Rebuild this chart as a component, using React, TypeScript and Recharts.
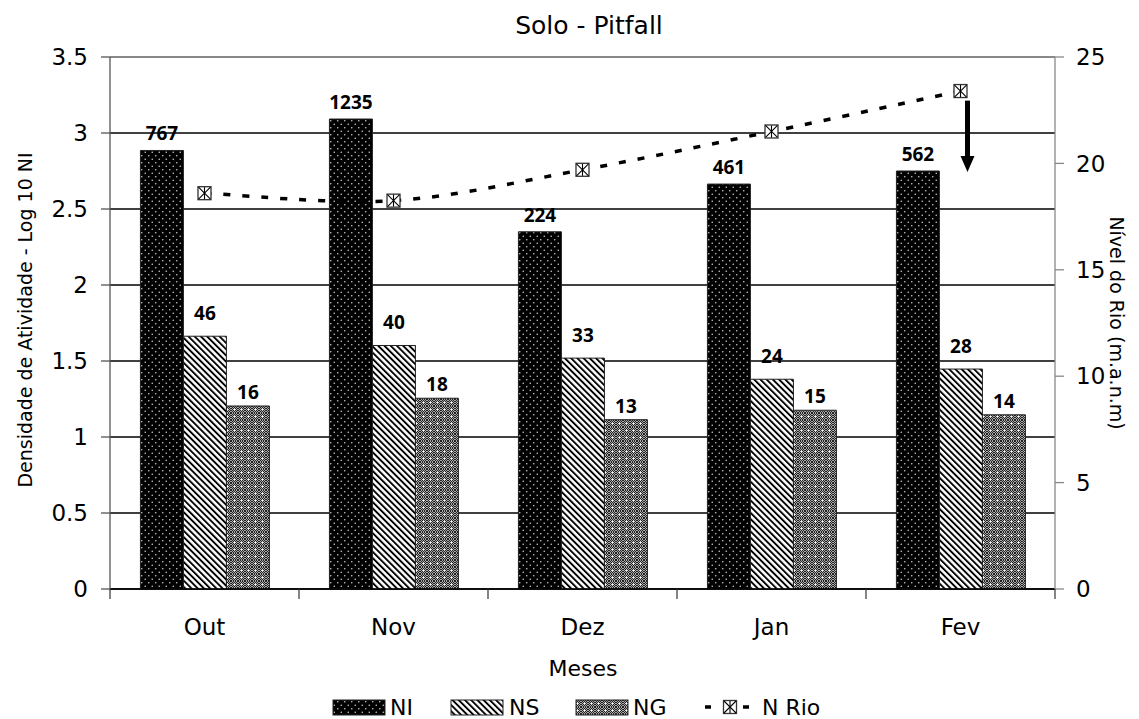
import React from 'react';
import { ComposedChart, Bar, Line, XAxis, YAxis, CartesianGrid, LabelList, ReferenceLine } from 'recharts';

const months = ['Out', 'Nov', 'Dez', 'Jan', 'Fev'];
const niCounts = [767, 1235, 224, 461, 562];
const nsCounts = [46, 40, 33, 24, 28];
const ngCounts = [16, 18, 13, 15, 14];
const niLog = [2.885, 3.092, 2.35, 2.664, 2.75];
const nsLog = [1.663, 1.602, 1.519, 1.38, 1.447];
const ngLog = [1.204, 1.255, 1.114, 1.176, 1.146];
const rioLevel = [18.6, 18.25, 19.7, 21.5, 23.4];
const leftTicks = [0, 0.5, 1, 1.5, 2, 2.5, 3, 3.5];
const rightTicks = [0, 5, 10, 15, 20, 25];
const arrowFrom = 22.95;
const arrowTo = 19.6;

const data = months.map((m, i) => ({
  month: m,
  ni: niLog[i],
  niN: niCounts[i],
  ns: nsLog[i],
  nsN: nsCounts[i],
  ng: ngLog[i],
  ngN: ngCounts[i],
  rio: rioLevel[i],
}));

const W = 1139;
const H = 719;
const BAND = 189;
const FONT = '"DejaVu Sans", sans-serif';

const excelSmooth = (context: any) => {
  let pts: number[][] = [];
  return {
    areaStart() {},
    areaEnd() {},
    lineStart() {
      pts = [];
    },
    lineEnd() {
      if (!pts.length) return;
      context.moveTo(pts[0][0], pts[0][1]);
      for (let i = 0; i < pts.length - 1; i++) {
        const p0 = pts[i - 1] || pts[i];
        const p1 = pts[i];
        const p2 = pts[i + 1];
        const p3 = pts[i + 2] || p2;
        context.bezierCurveTo(
          p1[0] + (p2[0] - p0[0]) / 6,
          p1[1] + (p2[1] - p0[1]) / 6,
          p2[0] - (p3[0] - p1[0]) / 6,
          p2[1] - (p3[1] - p1[1]) / 6,
          p2[0],
          p2[1]
        );
      }
    },
    point(x: number, y: number) {
      pts.push([+x, +y]);
    },
  };
};

const Patterns = ({ s }: { s: string }) => (
  <defs>
    <pattern id={`ni${s}`} width="7" height="7" patternUnits="userSpaceOnUse">
      <rect width="7" height="7" fill="#000" />
      <circle cx="1.75" cy="1.75" r="0.8" fill="#c8c8c8" />
      <circle cx="5.25" cy="5.25" r="0.8" fill="#c8c8c8" />
    </pattern>
    <pattern id={`ns${s}`} width="4.4" height="4.4" patternUnits="userSpaceOnUse" patternTransform="rotate(-45)">
      <rect width="4.4" height="4.4" fill="#fff" />
      <rect width="1.9" height="4.4" fill="#000" />
    </pattern>
    <pattern id={`dither${s}`} width="2" height="2" patternUnits="userSpaceOnUse">
      <rect width="2" height="2" fill="#a8a8a8" />
      <rect width="1" height="1" fill="#222" />
      <rect x="1" y="1" width="1" height="1" fill="#222" />
    </pattern>
    <pattern id={`ng${s}`} width="7" height="7" patternUnits="userSpaceOnUse">
      <rect width="7" height="7" fill={`url(#dither${s})`} />
      <rect x="2.5" y="3" width="2" height="1" fill="#fff" />
      <rect x="3" y="2.5" width="1" height="2" fill="#fff" />
    </pattern>
  </defs>
);

const Marker = ({ cx, cy }: { cx: number; cy: number }) => (
  <g>
    <rect x={cx - 6.5} y={cy - 6.5} width={13} height={13} fill="#fff" stroke="#333" strokeWidth={1.3} />
    <line x1={cx - 6} y1={cy - 6} x2={cx + 6} y2={cy + 6} stroke="#000" strokeWidth={1.1} />
    <line x1={cx + 6} y1={cy - 6} x2={cx - 6} y2={cy + 6} stroke="#000" strokeWidth={1.1} />
    <line x1={cx} y1={cy - 6} x2={cx} y2={cy + 6} stroke="#000" strokeWidth={1.1} />
  </g>
);

const renderDot = (props: any) => {
  const { cx, cy, index } = props;
  if (cx == null || cy == null) return <g key={`d${index}`} />;
  return <Marker key={`d${index}`} cx={cx} cy={cy} />;
};

const XTick = (props: any) => {
  const { x, y, payload, index } = props;
  return (
    <g>
      <line x1={x - BAND / 2} y1={y} x2={x - BAND / 2} y2={y + 10} stroke="#333" strokeWidth={1.2} />
      {index === months.length - 1 && (
        <line x1={x + BAND / 2} y1={y} x2={x + BAND / 2} y2={y + 10} stroke="#333" strokeWidth={1.2} />
      )}
      <text x={x} y={y + 46} textAnchor="middle" fontSize={23} fontFamily={FONT} fill="#000">
        {payload.value}
      </text>
    </g>
  );
};

const ArrowShape = (props: any) => {
  const { x1, y1, y2 } = props;
  const x = x1 + 7;
  return (
    <g>
      <line x1={x} y1={y1} x2={x} y2={y2 - 14} stroke="#000" strokeWidth={5} />
      <polygon points={`${x - 7},${y2 - 16} ${x + 7},${y2 - 16} ${x},${y2}`} fill="#000" />
    </g>
  );
};

const labelBase = {
  position: 'top' as const,
  fill: '#000',
  fontSize: 19,
  fontWeight: 700,
  fontFamily: '"Open Sans", sans-serif',
};

export default function App() {
  return (
    <div style={{ position: 'absolute', left: 0, top: 0, width: W, height: H, background: '#fff' }}>
      <ComposedChart
        width={W}
        height={H}
        data={data}
        margin={{ top: 57, right: 24, bottom: 80, left: 40 }}
        barGap={0}
        barCategoryGap="16.1%"
        style={{ fontFamily: FONT }}
      >
        <Patterns s="C" />
        <CartesianGrid yAxisId="left" vertical={false} stroke="#000" strokeWidth={1.3} />
        <XAxis
          dataKey="month"
          interval={0}
          tickLine={false}
          tickSize={0}
          tickMargin={0}
          height={50}
          axisLine={{ stroke: '#000', strokeWidth: 1.3 }}
          tick={<XTick />}
        />
        <YAxis
          yAxisId="left"
          domain={[0, 3.5]}
          ticks={leftTicks}
          interval={0}
          width={70}
          tickSize={9}
          tickMargin={13}
          axisLine={{ stroke: '#555', strokeWidth: 1.3 }}
          tickLine={{ stroke: '#555', strokeWidth: 1.3 }}
          tick={{ fontSize: 23, fill: '#000', fontFamily: FONT }}
        />
        <YAxis
          yAxisId="right"
          orientation="right"
          domain={[0, 25]}
          ticks={rightTicks}
          interval={0}
          width={60}
          tickSize={9}
          tickMargin={12}
          axisLine={{ stroke: '#888', strokeWidth: 1.3 }}
          tickLine={{ stroke: '#888', strokeWidth: 1.3 }}
          tick={{ fontSize: 23, fill: '#000', fontFamily: FONT }}
        />
        <ReferenceLine yAxisId="left" y={3.5} stroke="#888" strokeWidth={2} />
        <Bar yAxisId="left" dataKey="ni" name="NI" fill="url(#niC)" stroke="#222" strokeWidth={1} isAnimationActive={false}>
          <LabelList dataKey="niN" offset={10} {...labelBase} />
        </Bar>
        <Bar yAxisId="left" dataKey="ns" name="NS" fill="url(#nsC)" stroke="#222" strokeWidth={1} isAnimationActive={false}>
          <LabelList dataKey="nsN" offset={16} {...labelBase} />
        </Bar>
        <Bar yAxisId="left" dataKey="ng" name="NG" fill="url(#ngC)" stroke="#222" strokeWidth={1} isAnimationActive={false}>
          <LabelList dataKey="ngN" offset={7} {...labelBase} />
        </Bar>
        <Line
          yAxisId="right"
          dataKey="rio"
          name="N Rio"
          type={excelSmooth as any}
          stroke="#000"
          strokeWidth={3.5}
          strokeDasharray="7 12"
          dot={renderDot}
          activeDot={false}
          isAnimationActive={false}
        />
        <ReferenceLine
          yAxisId="right"
          segment={[
            { x: 'Fev', y: arrowFrom },
            { x: 'Fev', y: arrowTo },
          ]}
          ifOverflow="visible"
          shape={<ArrowShape />}
        />
      </ComposedChart>
      <svg width={W} height={H} style={{ position: 'absolute', left: 0, top: 0, pointerEvents: 'none' }}>
        <Patterns s="L" />
        <text x={589} y={34} textAnchor="middle" fontSize={25} fontFamily={FONT} fill="#000">
          Solo - Pitfall
        </text>
        <text x={583} y={676} textAnchor="middle" fontSize={22} fontFamily={FONT} fill="#000">
          Meses
        </text>
        <text
          transform="translate(25,320) rotate(-90)"
          textAnchor="middle"
          dominantBaseline="central"
          fontSize={19}
          fontFamily={FONT}
          fill="#000"
        >
          Densidade de Atividade - Log 10 NI
        </text>
        <text
          transform="translate(1117,323) rotate(90)"
          textAnchor="middle"
          dominantBaseline="central"
          fontSize={19}
          fontFamily={FONT}
          fill="#000"
        >
          Nível do Rio (m.a.n.m)
        </text>
        <rect x={333} y={700} width={52} height={15} fill="url(#niL)" stroke="#222" />
        <text x={390} y={715} fontSize={22} fontFamily={FONT} fill="#000">NI</text>
        <rect x={451} y={700} width={52} height={15} fill="url(#nsL)" stroke="#222" />
        <text x={509} y={715} fontSize={22} fontFamily={FONT} fill="#000">NS</text>
        <rect x={576} y={700} width={52} height={15} fill="url(#ngL)" stroke="#222" />
        <text x={633} y={715} fontSize={22} fontFamily={FONT} fill="#000">NG</text>
        <line x1={705} y1={707} x2={750} y2={707} stroke="#000" strokeWidth={3.5} strokeDasharray="6 13" />
        <Marker cx={730} cy={707} />
        <text x={762} y={715} fontSize={22} fontFamily={FONT} fill="#000">N Rio</text>
      </svg>
    </div>
  );
}
